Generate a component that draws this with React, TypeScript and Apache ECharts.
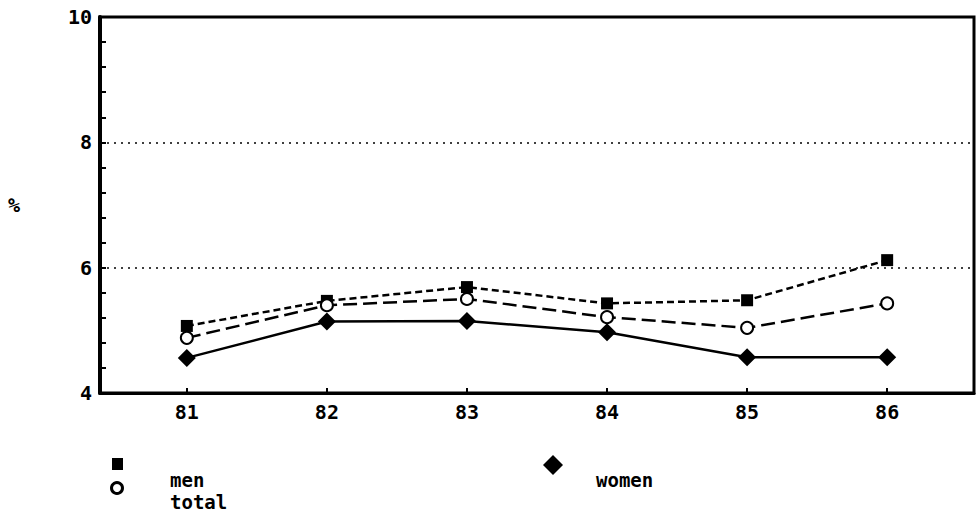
import React, { useEffect, useRef } from "react";
import * as echarts from "echarts";

const years = [81, 82, 83, 84, 85, 86];
const men = [5.07, 5.47, 5.69, 5.43, 5.48, 6.12];
const total = [4.88, 5.4, 5.5, 5.21, 5.04, 5.43];
const women = [4.56, 5.14, 5.15, 4.97, 4.57, 4.57];
const yTicks = [4, 6, 8, 10];

const FONT = "DejaVu Sans Mono";

export default function App() {
  const ref = useRef<HTMLDivElement>(null);
  useEffect(() => {
    if (!ref.current) return;
    const chart = echarts.init(ref.current, null, { renderer: "svg" });
    const pairs = (vals: number[]) => years.map((y, i) => [y, vals[i]]);
    chart.setOption({
      animation: false,
      backgroundColor: "#fff",
      grid: {
        left: 100,
        top: 17,
        right: 5,
        bottom: 135,
        show: true,
        borderColor: "#000",
        borderWidth: 3,
      },
      xAxis: {
        type: "value",
        min: 80.38,
        max: 86.62,
        axisLine: { show: true, lineStyle: { color: "#000", width: 3 } },
        axisTick: { show: true, inside: true, length: 5, customValues: years, lineStyle: { color: "#000", width: 2 } },
        axisLabel: {
          customValues: years,
          color: "#000",
          fontFamily: FONT,
          fontWeight: "bold",
          fontSize: 20,
          margin: 9,
        },
        splitLine: { show: false },
      },
      yAxis: {
        type: "value",
        min: 4,
        max: 10,
        interval: 2,
        name: "%",
        nameLocation: "middle",
        nameRotate: 0,
        nameGap: 80,
        nameTextStyle: { color: "#000", fontFamily: FONT, fontWeight: "bold", fontSize: 20 },
        axisLine: { show: true, lineStyle: { color: "#000", width: 4 } },
        axisTick: { show: true, inside: true, length: 6, lineStyle: { color: "#000", width: 2 } },
        minorTick: { show: true, splitNumber: 5, length: 6, lineStyle: { color: "#000", width: 2 } },
        axisLabel: {
          customValues: yTicks,
          color: "#000",
          fontFamily: FONT,
          fontWeight: "bold",
          fontSize: 20,
          margin: 8,
        },
        splitLine: { show: true, lineStyle: { color: "#000", type: [2, 5], width: 1.5 } },
      },
      series: [
        {
          name: "men",
          type: "line",
          data: pairs(men),
          symbol: "rect",
          symbolSize: 12,
          itemStyle: { color: "#000" },
          lineStyle: { color: "#000", width: 2.5, type: [7, 4] },
        },
        {
          name: "total",
          type: "line",
          data: pairs(total),
          symbol: "emptyCircle",
          symbolSize: 12,
          itemStyle: { color: "#000", borderWidth: 3 },
          lineStyle: { color: "#000", width: 2.5, type: [14, 6] },
        },
        {
          name: "women",
          type: "line",
          data: pairs(women),
          symbol: "diamond",
          symbolSize: 18,
          itemStyle: { color: "#000" },
          lineStyle: { color: "#000", width: 2.5, type: "solid" },
        },
      ],
      graphic: [
        { type: "rect", shape: { x: 112, y: 458, width: 11, height: 12 }, style: { fill: "#000" } },
        { type: "text", x: 170, y: 480, style: { text: "men", font: `bold 19px "${FONT}"`, fill: "#000", textVerticalAlign: "middle" } },
        { type: "circle", shape: { cx: 117, cy: 488, r: 5.5 }, style: { fill: "none", stroke: "#000", lineWidth: 3 } },
        { type: "text", x: 170, y: 502, style: { text: "total", font: `bold 19px "${FONT}"`, fill: "#000", textVerticalAlign: "middle" } },
        { type: "polygon", shape: { points: [[553, 455], [563, 465], [553, 475], [543, 465]] }, style: { fill: "#000" } },
        { type: "text", x: 596, y: 480, style: { text: "women", font: `bold 19px "${FONT}"`, fill: "#000", textVerticalAlign: "middle" } },
      ],
    });
    return () => chart.dispose();
  }, []);
  return <div ref={ref} style={{ position: "fixed", left: 0, top: 0, width: 979, height: 528 }} />;
}
